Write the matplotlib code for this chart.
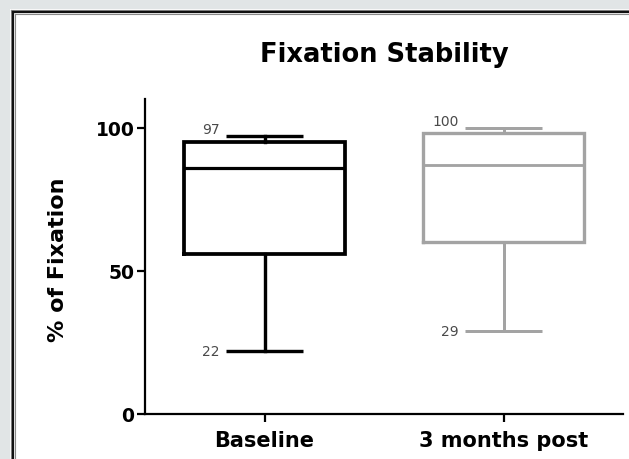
import matplotlib
matplotlib.use("Agg")
import matplotlib.pyplot as plt
from matplotlib.lines import Line2D
from matplotlib.patches import Rectangle

# Box-plot summaries (% of fixation)
groups = ["Baseline", "3 months post"]
whisker_low = [22, 29]
q1 = [56, 60]
median = [86, 87]
q3 = [95, 98]
whisker_high = [97, 100]
colors = ["#000000", "#a3a3a3"]

yticks = [0, 50, 100]

W, H = 629, 460
fig = plt.figure(figsize=(W / 100, H / 100), dpi=100)
fig.patch.set_facecolor("#e1e5e6")


def px(x, y):
    """Pixel (top-left origin) to figure fraction."""
    return x / W, 1 - y / H


# White panel with a double frame line
x0, y0 = px(10, 10)
fig.patches.append(Rectangle((x0, -0.1), 1.2, y0 + 0.1, transform=fig.transFigure,
                             facecolor="white", edgecolor="none", zorder=-2))
for off, col, lw in [(0.5, "#8a8a8a", 0.8), (2.5, "#111111", 1.6), (5, "#8a8a8a", 0.8)]:
    xa, ya = px(10 + off, 10 + off)
    fig.lines.append(Line2D([xa, xa], [-0.1, ya], transform=fig.transFigure,
                            color=col, lw=lw, zorder=-1))
    fig.lines.append(Line2D([xa, 1.2], [ya, ya], transform=fig.transFigure,
                            color=col, lw=lw, zorder=-1))

left, top = px(145, 100)
right, bottom = px(623, 415)
ax = fig.add_axes([left, bottom, right - left, top - bottom])
ax.set_facecolor("none")
ax.set_zorder(2)

positions = [1, 2]
stats = []
for i, g in enumerate(groups):
    stats.append(dict(label=g, whislo=whisker_low[i], q1=q1[i], med=median[i],
                      q3=q3[i], whishi=whisker_high[i], fliers=[]))

for i, s in enumerate(stats):
    c = colors[i]
    lw = 2.7 if i == 0 else 2.4
    ax.bxp([s], positions=[positions[i]], widths=0.67, capwidths=0.32,
           showfliers=False, patch_artist=False,
           boxprops=dict(color=c, lw=lw, solid_joinstyle="miter"),
           medianprops=dict(color=c, lw=lw * 0.85),
           whiskerprops=dict(color=c, lw=lw * 0.9),
           capprops=dict(color=c, lw=lw * 0.9, solid_capstyle="butt"),
           manage_ticks=False)
    cap_left = positions[i] - 0.16
    ax.annotate(str(s["whishi"]), xy=(cap_left, s["whishi"]), xytext=(-5, 0),
                textcoords="offset points", ha="right", va="bottom",
                fontsize=10, color="#4a4a4a", family="DejaVu Sans")
    ax.annotate(str(s["whislo"]), xy=(cap_left, s["whislo"]), xytext=(-5, 0),
                textcoords="offset points", ha="right", va="center",
                fontsize=10, color="#4a4a4a", family="DejaVu Sans")

ax.set_xlim(0.5, 2.5)
ax.set_ylim(0, 110)
ax.set_xticks(positions)
ax.set_xticklabels(groups, fontsize=15, fontweight="bold", family="DejaVu Sans")
ax.set_yticks(yticks)
ax.set_yticklabels([str(v) for v in yticks], fontsize=13.5, fontweight="bold",
                   family="DejaVu Sans")

for side in ["top", "right"]:
    ax.spines[side].set_visible(False)
for side in ["left", "bottom"]:
    ax.spines[side].set_linewidth(1.6)
ax.tick_params(axis="both", length=5.5, width=1.6, color="black")
ax.tick_params(axis="x", pad=6)
ax.tick_params(axis="y", pad=2)

ax.set_ylabel("% of Fixation", fontsize=16, fontweight="bold", family="DejaVu Sans")
ax.yaxis.set_label_coords(-0.161, 0.492)
ax.set_title("Fixation Stability", fontsize=18.5, fontweight="bold",
             family="DejaVu Sans", pad=27)

fig.savefig("out.png", dpi=100, facecolor=fig.get_facecolor())
